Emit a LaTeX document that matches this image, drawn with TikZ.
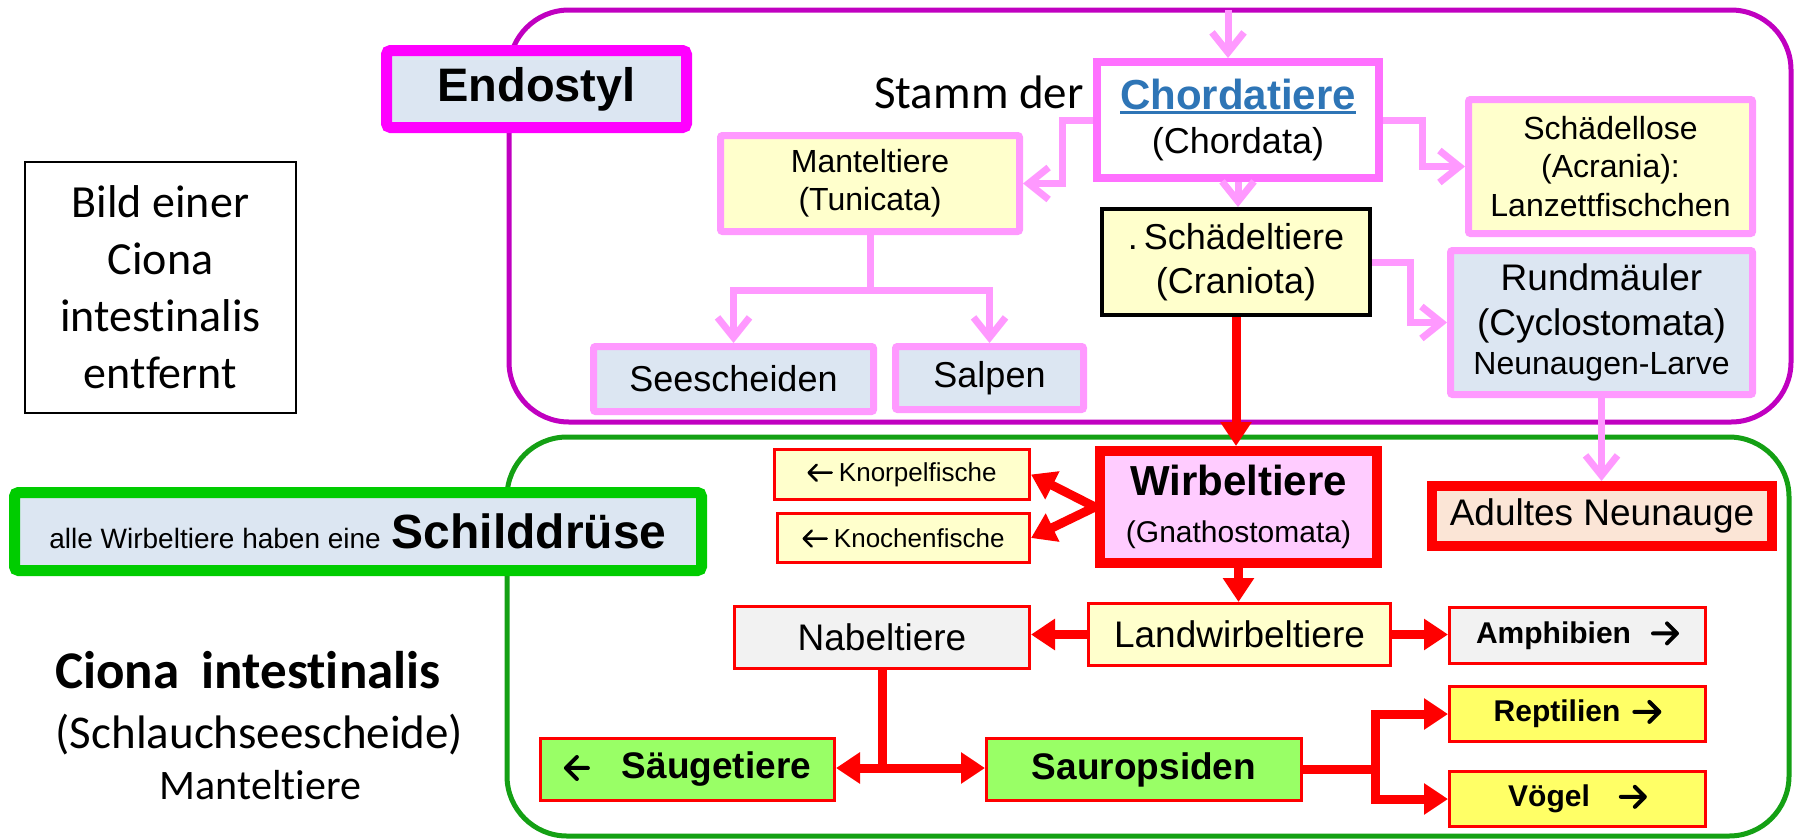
\documentclass[tikz,border=0pt]{standalone}
\usepackage{fontspec}
\setmainfont[Ligatures=NoCommon]{Liberation Sans}
\newfontfamily\calib[Ligatures=NoCommon]{Carlito}
\usetikzlibrary{arrows.meta}
\definecolor{lblue}{HTML}{DCE6F2}
\definecolor{lyellow}{HTML}{FFFFCC}
\definecolor{pinkl}{HTML}{FF99FF}
\definecolor{pinkc}{HTML}{FF70FF}
\definecolor{magent}{HTML}{FF00FF}
\definecolor{purp}{HTML}{C000C0}
\definecolor{grn}{HTML}{00CC00}
\definecolor{dgrn}{HTML}{14A014}
\definecolor{peach}{HTML}{FBE5D6}
\definecolor{wpink}{HTML}{FFCCFF}
\definecolor{lgrey}{HTML}{F2F2F2}
\definecolor{lgreen}{HTML}{99FF66}
\definecolor{yel}{HTML}{FFFF66}
\definecolor{chblue}{HTML}{2E75B6}
\newcommand\myul[1]{\setbox0=\hbox{#1}\rlap{\color{chblue}\rule[-5pt]{\wd0}{3pt}}\box0}
% left / right arrows drawn inline: width, half head height, line width, height above baseline
\newcommand\arl[4]{\tikz[baseline=0pt,x=1pt,y=1pt]\draw[line width=#3,line cap=round,line join=round] (#1,#4)--(0,#4) (#2,#4+#2)--(0,#4)--(#2,#4-#2);}
\newcommand\arr[4]{\tikz[baseline=0pt,x=1pt,y=1pt]\draw[line width=#3,line cap=round,line join=round] (0,#4)--(#1,#4) (#1-#2,#4+#2)--(#1,#4)--(#1-#2,#4-#2);}
\begin{document}
\begin{tikzpicture}[x=1pt,y=-1pt,
  box/.style={draw, inner sep=0pt, align=center, rounded corners=2pt},
  pinkbox/.style={box, draw=pinkl, line width=7pt},
  redbox/.style={box, draw=red, line width=3pt, rounded corners=0pt},
  pinkarrow/.style={draw=pinkl, line width=7pt, -{Straight Barb[length=20pt,width=32pt]}},
  redline/.style={draw=red, line width=9pt},
  redarrow/.style={redline, -{Triangle[length=24pt,width=30pt]}},
  f37/.style={font={\fontsize{37}{42}\selectfont}},
  b37/.style={font={\fontsize{37}{42}\selectfont\bfseries}},
  b30/.style={font={\fontsize{30}{34}\selectfont\bfseries}},
  f26/.style={font={\fontsize{26}{30}\selectfont}},
]
\useasboundingbox (0,0) rectangle (1796,839);

% big group boxes
\draw[purp, line width=5pt, rounded corners=60pt] (509,10) rectangle (1791,422);
\draw[dgrn, line width=5pt, rounded corners=60pt] (507,437) rectangle (1789,836);

% left side
\node[draw=black, line width=2pt, inner sep=0pt, minimum width=271pt, minimum height=251pt, align=center,
      font={\calib\fontsize{46}{57}\selectfont}] (bild) at (160.5,287.5) {Bild einer\\Ciona\\intestinalis\\entfernt};
\node[box, draw=magent, fill=lblue, line width=11pt, rounded corners=4pt, minimum width=300pt, minimum height=77pt,
      font={\fontsize{47}{50}\selectfont\bfseries}] (endo) at (536.5,89) {Endostyl};
\node[box, draw=grn, fill=lblue, line width=11pt, rounded corners=4pt, minimum width=687pt, minimum height=78pt]
      (schild) at (358,531.5) {{\fontsize{28}{30}\selectfont alle Wirbeltiere haben eine}\hspace{11pt}{\fontsize{48}{50}\selectfont\bfseries Schilddrüse}};
\node[anchor=base, inner sep=0pt, font={\calib\fontsize{53}{57}\selectfont\bfseries}] (ciona) at (248,688) {Ciona\hspace{22pt}intestinalis};
\node[anchor=base, inner sep=0pt, font={\calib\fontsize{47}{50}\selectfont}] (schlauch) at (259.5,748) {(Schlauchseescheide)};
\node[anchor=base, inner sep=0pt, font={\calib\fontsize{42}{45}\selectfont}] (mtl) at (260.5,799) {Manteltiere};

% upper part
\node[anchor=base west, inner sep=0pt, font={\calib\fontsize{47}{50}\selectfont}] (stamm) at (874,108) {Stamm der};
\node[box, draw=pinkc, fill=white, line width=8pt, rounded corners=0pt, minimum width=282pt, minimum height=116pt,
      font={\fontsize{36}{44}\selectfont}] (chord) at (1238,120)
      {{\fontsize{42}{44}\selectfont\bfseries\myul{\textcolor{chblue}{Chordatiere}}}\\(Chordata)};
\node[pinkbox, fill=lyellow, minimum width=299pt, minimum height=96pt, font={\fontsize{32}{38}\selectfont}]
      (mantel) at (870,183.5) {Manteltiere\\(Tunicata)};
\node[pinkbox, fill=lyellow, minimum width=284pt, minimum height=134pt, font={\fontsize{32}{38.5}\selectfont}]
      (slose) at (1610.5,166.5) {Schädellose\\(Acrania):\\Lanzettfischchen};
\node[box, draw=black, line width=4pt, rounded corners=0pt, fill=lyellow, minimum width=268pt, minimum height=106pt,
      font={\fontsize{36}{44}\selectfont}] (schaedel) at (1236,262) {.\,Schädeltiere\\(Craniota)};
\node[pinkbox, fill=lblue, minimum width=302pt, minimum height=144pt, font={\fontsize{37}{45}\selectfont}]
      (rund) at (1601.5,322.5) {Rundmäuler\\(Cyclostomata)\\[-6pt]{\fontsize{32}{39}\selectfont Neunaugen-Larve}};
\node[pinkbox, fill=lblue, minimum width=280pt, minimum height=65pt, font={\fontsize{36}{40}\selectfont}]
      (seesch) at (733.5,379) {Seescheiden};
\node[pinkbox, fill=lblue, minimum width=188pt, minimum height=63pt, font={\fontsize{36}{40}\selectfont}]
      (salpen) at (989.5,378) {Salpen};

% lower part
\node[box, draw=red, line width=10pt, rounded corners=0pt, fill=wpink, minimum width=277pt, minimum height=112pt,
      font={\fontsize{30}{47}\selectfont}] (wirbel) at (1238.5,507)
      {{\fontsize{42}{47}\selectfont\bfseries Wirbeltiere}\\(Gnathostomata)};
\node[redbox, fill=lyellow, minimum width=255pt, minimum height=50pt, f26] (knorpel) at (902,474.5) {\arl{23}{8}{2.5}{8.5}\hspace{6pt}Knorpelfische};
\node[redbox, fill=lyellow, minimum width=252pt, minimum height=49pt, f26] (knochen) at (903.5,538) {\arl{23}{8}{2.5}{8.5}\hspace{6pt}Knochenfische};
\node[box, draw=red, line width=10pt, rounded corners=0pt, fill=peach, minimum width=340pt, minimum height=60pt, f37]
      (adult) at (1602,516) {Adultes Neunauge};
\node[redbox, fill=lyellow, minimum width=302pt, minimum height=62pt, f37] (landw) at (1239.5,634.5) {Landwirbeltiere};
\node[redbox, fill=lgrey, minimum width=295pt, minimum height=62pt, f37] (nabel) at (882,637.5) {Nabeltiere};
\node[redbox, fill=lgrey, minimum width=256pt, minimum height=56pt, b30] (amph) at (1577.5,635.5) {Amphibien\hspace{20pt}\arr{24}{10}{4}{10}};
\node[redbox, fill=lgreen, minimum width=294pt, minimum height=62pt, b37] (saeuge) at (687.5,769.5) {\arl{22}{11}{4}{11}\hspace{32pt}Säugetiere};
\node[redbox, fill=lgreen, minimum width=315pt, minimum height=62pt, b37] (saurop) at (1144,769.5) {Sauropsiden};
\node[redbox, fill=yel, minimum width=256pt, minimum height=55pt, b30] (rept) at (1577.5,714) {Reptilien\hspace{12pt}\arr{25}{10}{4}{10}};
\node[redbox, fill=yel, minimum width=256pt, minimum height=55pt, b30] (voegel) at (1577.5,799) {Vögel\hspace{29pt}\arr{24}{10}{4}{10}};

% pink connectors
\coordinate (topin) at (1228,10);
\draw[pinkarrow] (topin) -- (topin |- chord.north);
\draw[pinkarrow] (chord.west) -- ++(-31,0) |- (mantel.east);
\draw[pinkarrow] (chord.east) -- ++(39,0) |- (slose.west);
\draw[pinkarrow] (chord.south) -- (chord.south |- schaedel.north);
\draw[pinkarrow] (schaedel.east) -- ++(38,0) |- (rund.west);
\draw[pinkarrow] (rund.south) -- (rund.south |- adult.north);
\draw[draw=pinkl, line width=7pt] (mantel.south) -- (870,290) coordinate (msplit);
\draw[pinkarrow] (msplit) -| (seesch.north);
\draw[pinkarrow] (msplit) -| (salpen.north);

% red connectors
\draw[redarrow] (schaedel.south) -- (schaedel.south |- wirbel.north);
\draw[redarrow] (wirbel.west) -- (knorpel.east);
\draw[redarrow] (wirbel.west) -- (knochen.east);
\draw[redarrow] (wirbel.south) -- (wirbel.south |- landw.north);
\draw[redarrow] (landw.west) -- (landw.west -| nabel.east);
\draw[redarrow] (landw.east) -- (landw.east -| amph.west);
\draw[redline] (nabel.south) -- (882,768) coordinate (nsplit);
\draw[redarrow] (nsplit) -- (nsplit -| saeuge.east);
\draw[redarrow] (nsplit) -- (nsplit -| saurop.west);
\draw[redline] (saurop.east) -- (1375,769.5) coordinate (ssplit);
\draw[redarrow] (ssplit) |- (rept.west);
\draw[redarrow] (ssplit) |- (voegel.west);
\end{tikzpicture}
\end{document}
